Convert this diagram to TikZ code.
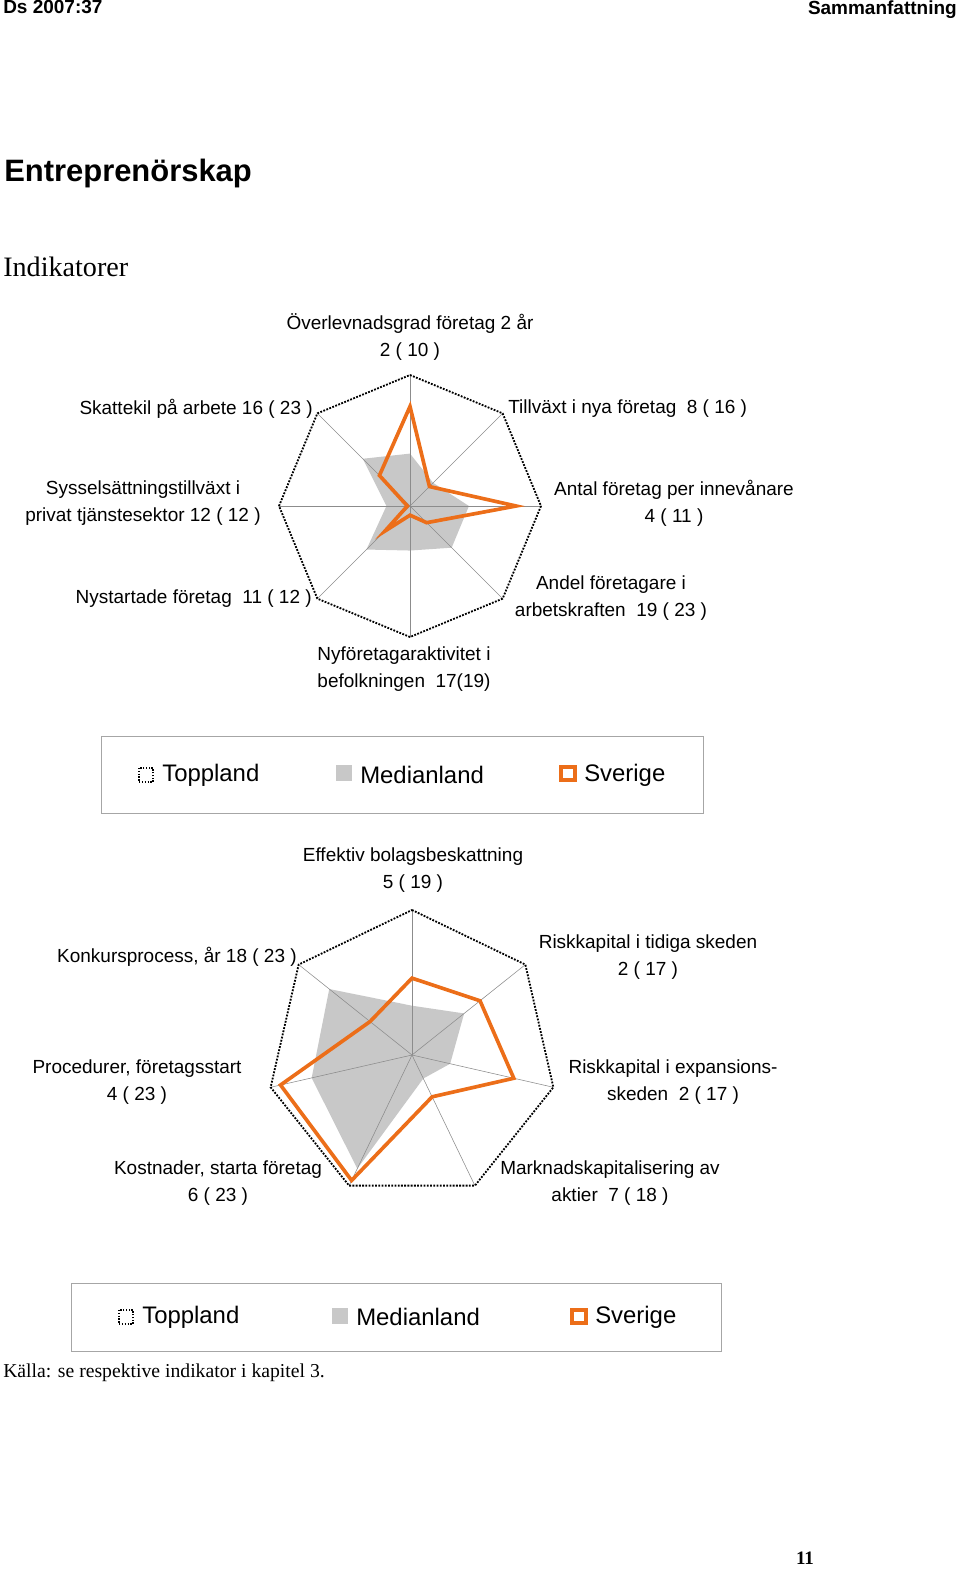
\documentclass[tikz,border=0pt]{standalone}
\usepackage{fontspec}
\setmainfont{Liberation Sans}
\newfontfamily\serifface{Liberation Serif}
\definecolor{sverigeorange}{RGB}{236,110,25}
\definecolor{mediangray}{RGB}{200,200,200}
\tikzset{
  lbl/.style={font=\fontsize{13.5}{19}\selectfont, inner sep=0pt, align=center},
  legtext/.style={font=\fontsize{17}{20}\selectfont, anchor=west, inner sep=0pt},
  legbox/.style={draw=black!35, line width=0.6pt},
  spoke/.style={draw=black!45, line width=0.4pt},
  outline/.style={densely dotted, line width=1.3pt},
  median/.style={fill=mediangray, draw=none},
  sverige/.style={draw=sverigeorange, line width=2.6pt, line join=miter},
}
\begin{document}
\begin{tikzpicture}[x=0.025cm,y=-0.025cm]
\useasboundingbox (0,0) rectangle (960,1573);

\node[anchor=north west, inner sep=0pt, font=\fontsize{13.5}{16}\selectfont\bfseries] (hdl) at (3,0) {Ds 2007:37};
\node[anchor=north east, inner sep=0pt, font=\fontsize{13.5}{16}\selectfont\bfseries] (hdr) at (957,0) {Sammanfattning};
\node[anchor=west, inner sep=0pt, font=\fontsize{22}{26}\selectfont\bfseries] (title) at (4,173) {Entreprenörskap};
\node[anchor=west, inner sep=0pt, font=\fontsize{20}{24}\selectfont\serifface] (sub) at (3,267) {Indikatorer};

% first radar chart
\coordinate (c1) at (410,506);
\begin{scope}[shift={(c1)}, x=0.025cm, y=0.025cm]
  \fill[median] (90:0.40*131) -- (45:0.25*131) -- (0:0.45*131) -- (-45:0.45*131)
    -- (-90:0.34*131) -- (-135:0.47*131) -- (180:0.18*131) -- (135:0.51*131) -- cycle;
  \foreach \a in {0,45,...,315}
    \draw[spoke] (0,0) -- (\a:131);
  \draw[outline] (90:131) \foreach \a in {45,0,...,-225}{ -- (\a:131)} -- cycle;
  \draw[sverige] (90:0.76*131) -- (45:0.21*131) -- (0:0.81*131) -- (-45:0.18*131)
    -- (-90:0.07*131) -- (-135:0.27*131) -- (180:0.02*131) -- (135:0.33*131) -- cycle;
\end{scope}
\node[lbl] (l1a) at (410,337) {Överlevnadsgrad företag 2 år\\2 ( 10 )};
\node[lbl, anchor=east] (l1b) at (313,409) {Skattekil på arbete 16 ( 23 )};
\node[lbl, anchor=west] (l1c) at (508,409) {Tillväxt i nya företag\ \ 8 ( 16 )};
\node[lbl] (l1d) at (143,503) {Sysselsättningstillväxt i\\privat tjänstesektor 12 ( 12 )};
\node[lbl] (l1e) at (674,503) {Antal företag per innevånare\\4 ( 11 )};
\node[lbl, anchor=east] (l1f) at (312,599) {Nystartade företag\ \ 11 ( 12 )};
\node[lbl] (l1g) at (611,598) {Andel företagare i\\arbetskraften\ \ 19 ( 23 )};
\node[lbl] (l1h) at (404,669) {Nyföretagaraktivitet i\\befolkningen\ \ 17(19)};

% first legend
\draw[legbox] (101,736) rectangle (703,813);
\draw[outline, line width=1pt] (139,768) rectangle (153,782);
\node[legtext] (leg1a) at (162,775) {Toppland};
\fill[mediangray] (336,765) rectangle (352,781);
\node[legtext] (leg1b) at (360,775) {Medianland};
\draw[sverigeorange, line width=2.8pt] (561,767) rectangle (575,780);
\node[legtext] (leg1c) at (584,775) {Sverige};

% second radar chart
\coordinate (c2) at (412,1055);
\begin{scope}[shift={(c2)}, x=0.025cm, y=0.025cm]
  \fill[median] (90:0.34*145) -- (38.57:0.46*145) -- (-12.86:0.27*145) -- (-64.29:0.18*145)
    -- (-115.71:0.87*145) -- (-167.14:0.71*145) -- (141.43:0.73*145) -- cycle;
  \foreach \i in {0,...,6}
    \draw[spoke] (0,0) -- ({90-\i*360/7}:145);
  \draw[outline] (90:145) \foreach \i in {1,...,6}{ -- ({90-\i*360/7}:145)} -- cycle;
  \draw[sverige] (90:0.53*145) -- (38.57:0.60*145) -- (-12.86:0.72*145) -- (-64.29:0.32*145)
    -- (-115.71:0.96*145) -- (-167.14:0.93*145) -- (141.43:0.37*145) -- cycle;
\end{scope}
\node[lbl] (l2a) at (413,870) {Effektiv bolagsbeskattning\\5 ( 19 )};
\node[lbl, anchor=east] (l2b) at (297,957) {Konkursprocess, år 18 ( 23 )};
\node[lbl] (l2c) at (648,957) {Riskkapital i tidiga skeden\\2 ( 17 )};
\node[lbl] (l2d) at (137,1082) {Procedurer, företagsstart\\4 ( 23 )};
\node[lbl] (l2e) at (673,1082) {Riskkapital i expansions-\\skeden\ \ 2 ( 17 )};
\node[lbl] (l2f) at (218,1183) {Kostnader, starta företag\\6 ( 23 )};
\node[lbl] (l2g) at (610,1183) {Marknadskapitalisering av\\aktier\ \ 7 ( 18 )};

% second legend
\draw[legbox] (71,1283) rectangle (721,1351);
\draw[outline, line width=1pt] (119,1310) rectangle (133,1324);
\node[legtext] (leg2a) at (142,1317) {Toppland};
\fill[mediangray] (332,1308) rectangle (348,1324);
\node[legtext] (leg2b) at (356,1317) {Medianland};
\draw[sverigeorange, line width=2.8pt] (572,1310) rectangle (586,1323);
\node[legtext] (leg2c) at (595,1317) {Sverige};

\node[anchor=west, inner sep=0pt, font=\fontsize{14}{17}\selectfont\serifface] (src) at (3,1373) {Källa: se respektive indikator i kapitel 3.};
\node[inner sep=0pt, font=\fontsize{13.5}{16}\selectfont\bfseries\serifface] (pg) at (805,1558) {11};
\end{tikzpicture}
\end{document}
